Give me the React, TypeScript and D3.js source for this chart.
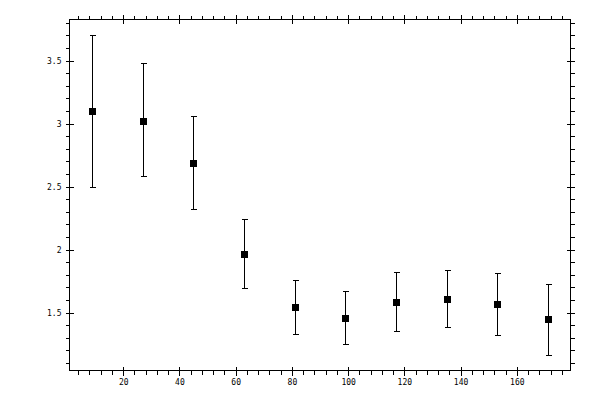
import React from 'react';
import { scaleLinear, extent, range } from 'd3';

// x positions, point values and error bar ends
const xValues = [9, 27, 45, 63, 81, 99, 117, 135, 153, 171];
const yValues = [3.098, 3.024, 2.69, 1.968, 1.548, 1.46, 1.587, 1.611, 1.571, 1.452];
const yHigh = [3.7, 3.479, 3.063, 2.24, 1.762, 1.675, 1.825, 1.841, 1.817, 1.73];
const yLow = [2.5, 2.582, 2.325, 1.698, 1.333, 1.254, 1.357, 1.389, 1.325, 1.167];

const xMajorTicks = [20, 40, 60, 80, 100, 120, 140, 160];
const yMajorTicks = [1.5, 2, 2.5, 3, 3.5];
const yTickLabels = ['1.5', '2', '2.5', '3', '3.5'];

const width = 600;
const height = 400;
const plot = { left: 69.5, right: 570.5, top: 19.5, bottom: 370.5 };

const pad = (lo: number, hi: number): [number, number] => {
  const p = (hi - lo) * 0.05;
  return [lo - p, hi + p];
};

const App = () => {
  const [xMin, xMax] = extent(xValues) as [number, number];
  const x = scaleLinear().domain(pad(xMin, xMax)).range([plot.left, plot.right]);
  const y = scaleLinear()
    .domain(pad(Math.min(...yLow), Math.max(...yHigh)))
    .range([plot.bottom, plot.top]);

  const xMinor = range(4, 180, 4).filter((v) => v % 20 !== 0 && x(v) > plot.left && x(v) < plot.right);
  const yMinor = range(11, 39)
    .map((v) => v / 10)
    .filter((v) => Math.round(v * 10) % 5 !== 0 && y(v) < plot.bottom && y(v) > plot.top);

  const font = { fontFamily: '"DejaVu Sans Mono", monospace', fontSize: 8 };

  return (
    <svg
      width={width}
      height={height}
      style={{ position: 'absolute', left: 0, top: 0, background: 'white' }}
    >
      <g stroke="black" strokeWidth={1} shapeRendering="crispEdges" fill="none">
        <rect
          x={plot.left}
          y={plot.top}
          width={plot.right - plot.left}
          height={plot.bottom - plot.top}
        />
        {/* minor ticks, outward */}
        {xMinor.map((v) => (
          <g key={'xm' + v}>
            <line x1={Math.round(x(v)) + 0.5} x2={Math.round(x(v)) + 0.5} y1={plot.bottom} y2={plot.bottom + 4} />
            <line x1={Math.round(x(v)) + 0.5} x2={Math.round(x(v)) + 0.5} y1={plot.top} y2={plot.top - 4} />
          </g>
        ))}
        {yMinor.map((v) => (
          <g key={'ym' + v}>
            <line y1={Math.round(y(v)) + 0.5} y2={Math.round(y(v)) + 0.5} x1={plot.left} x2={plot.left - 4} />
            <line y1={Math.round(y(v)) + 0.5} y2={Math.round(y(v)) + 0.5} x1={plot.right} x2={plot.right + 4} />
          </g>
        ))}
        {/* major ticks, crossing the frame */}
        {xMajorTicks.map((v) => (
          <g key={'xM' + v}>
            <line x1={Math.round(x(v)) + 0.5} x2={Math.round(x(v)) + 0.5} y1={plot.bottom - 4} y2={plot.bottom + 5} />
            <line x1={Math.round(x(v)) + 0.5} x2={Math.round(x(v)) + 0.5} y1={plot.top - 5} y2={plot.top + 4} />
          </g>
        ))}
        {yMajorTicks.map((v) => (
          <g key={'yM' + v}>
            <line y1={Math.round(y(v)) + 0.5} y2={Math.round(y(v)) + 0.5} x1={plot.left - 4} x2={plot.left + 4} />
            <line y1={Math.round(y(v)) + 0.5} y2={Math.round(y(v)) + 0.5} x1={plot.right - 4} x2={plot.right + 4} />
          </g>
        ))}
        {/* error bars */}
        {xValues.map((v, i) => {
          const cx = Math.round(x(v)) + 0.5;
          const hi = Math.round(y(yHigh[i])) + 0.5;
          const lo = Math.round(y(yLow[i])) + 0.5;
          return (
            <g key={'e' + i}>
              <line x1={cx} x2={cx} y1={hi} y2={lo} />
              <line x1={cx - 3} x2={cx + 3} y1={hi} y2={hi} />
              <line x1={cx - 3} x2={cx + 3} y1={lo} y2={lo} />
            </g>
          );
        })}
      </g>
      <g fill="black" shapeRendering="crispEdges">
        {xValues.map((v, i) => (
          <rect
            key={'p' + i}
            x={Math.round(x(v)) - 3}
            y={Math.round(y(yValues[i])) - 3}
            width={7}
            height={7}
          />
        ))}
      </g>
      <g fill="black" style={font}>
        {xMajorTicks.map((v) => (
          <text key={'xl' + v} x={x(v) + 0.5} y={plot.bottom + 14} textAnchor="middle">
            {v}
          </text>
        ))}
        {yMajorTicks.map((v, i) => (
          <text key={'yl' + v} x={plot.left - 8} y={y(v) + 3} textAnchor="end">
            {yTickLabels[i]}
          </text>
        ))}
      </g>
    </svg>
  );
};

export default App;
